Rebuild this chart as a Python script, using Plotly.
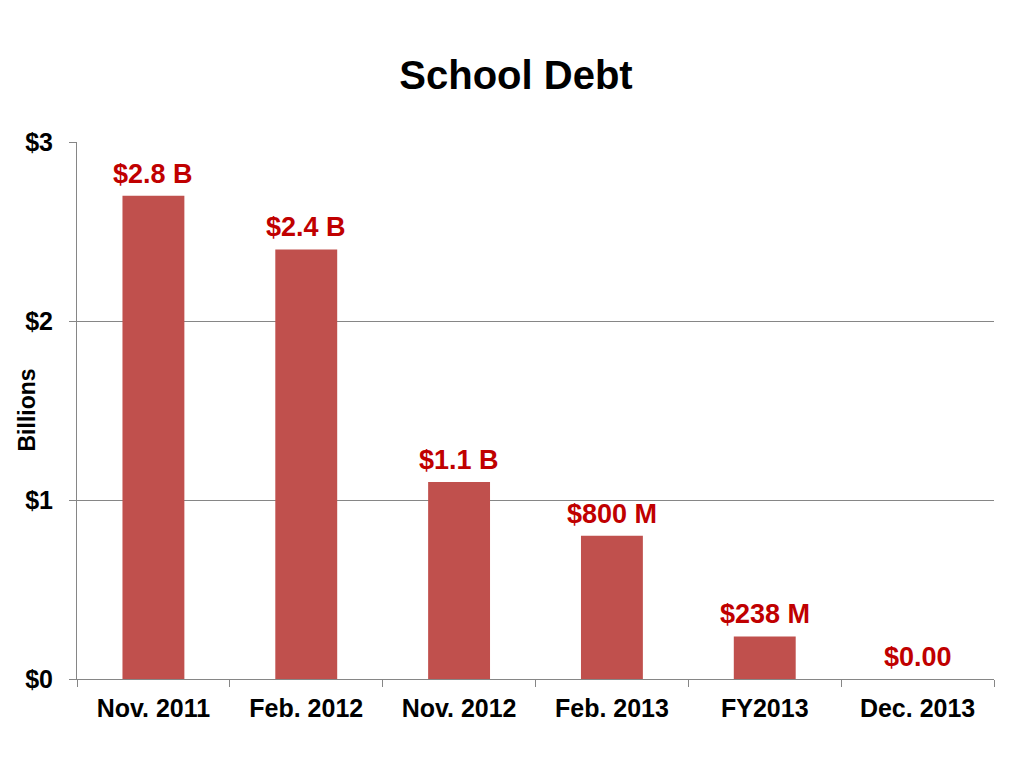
import plotly.graph_objects as go

categories = ["Nov. 2011", "Feb. 2012", "Nov. 2012", "Feb. 2013", "FY2013", "Dec. 2013"]
values = [2.7, 2.4, 1.1, 0.8, 0.238, 0.0]
labels = ["$2.8 B", "$2.4 B", "$1.1 B", "$800 M", "$238 M", "$0.00"]
tick_vals = [0, 1, 2, 3]
tick_text = ["$0", "$1", "$2", "$3"]

font_main = "Liberation Sans, Arial, sans-serif"

fig = go.Figure()
fig.add_trace(go.Bar(
    x=categories, y=values,
    marker=dict(color="#C0504D", line=dict(width=0)),
    width=0.405,
))

for c, v, t in zip(categories, values, labels):
    fig.add_annotation(
        x=c, y=v, xref="x", yref="y", text="<b>%s</b>" % t, showarrow=False,
        yanchor="bottom", yshift=5,
        font=dict(family=font_main, size=27, color="#C00000"),
    )

fig.add_annotation(
    x=-0.0556, y=0.5, xref="paper", yref="paper", text="<b>Billions</b>",
    showarrow=False, textangle=-90, xanchor="center", yanchor="middle",
    font=dict(family=font_main, size=23, color="black"),
)

fig.update_layout(
    width=1016, height=760,
    paper_bgcolor="white", plot_bgcolor="white",
    margin=dict(l=69, r=30, t=134, b=89, autoexpand=False),
    showlegend=False,
    title=dict(text="<b>School Debt</b>", x=0.5, xanchor="center", y=0.912, yanchor="middle",
               font=dict(family=font_main, size=40, color="black")),
    font=dict(family=font_main, color="black"),
)
fig.update_xaxes(
    automargin=False,
    showline=True, linecolor="#868686", linewidth=1,
    ticks="outside", ticklen=7, tickcolor="#868686", tickson="boundaries",
    tickfont=dict(family=font_main, size=25, color="black"),
    tickprefix="<b>", ticksuffix="</b>", ticklabelstandoff=7,
)
fig.update_yaxes(
    automargin=False,
    range=[0, 3], tickvals=tick_vals, ticktext=["<b>%s</b>" % t for t in tick_text],
    showline=True, linecolor="#868686", linewidth=1,
    ticks="outside", ticklen=7, tickcolor="#868686",
    showgrid=True, gridcolor="#868686", gridwidth=1,
    tickfont=dict(family=font_main, size=25, color="black"),
    ticklabelstandoff=11,
    zeroline=False,
)

fig.write_html("out.html")
